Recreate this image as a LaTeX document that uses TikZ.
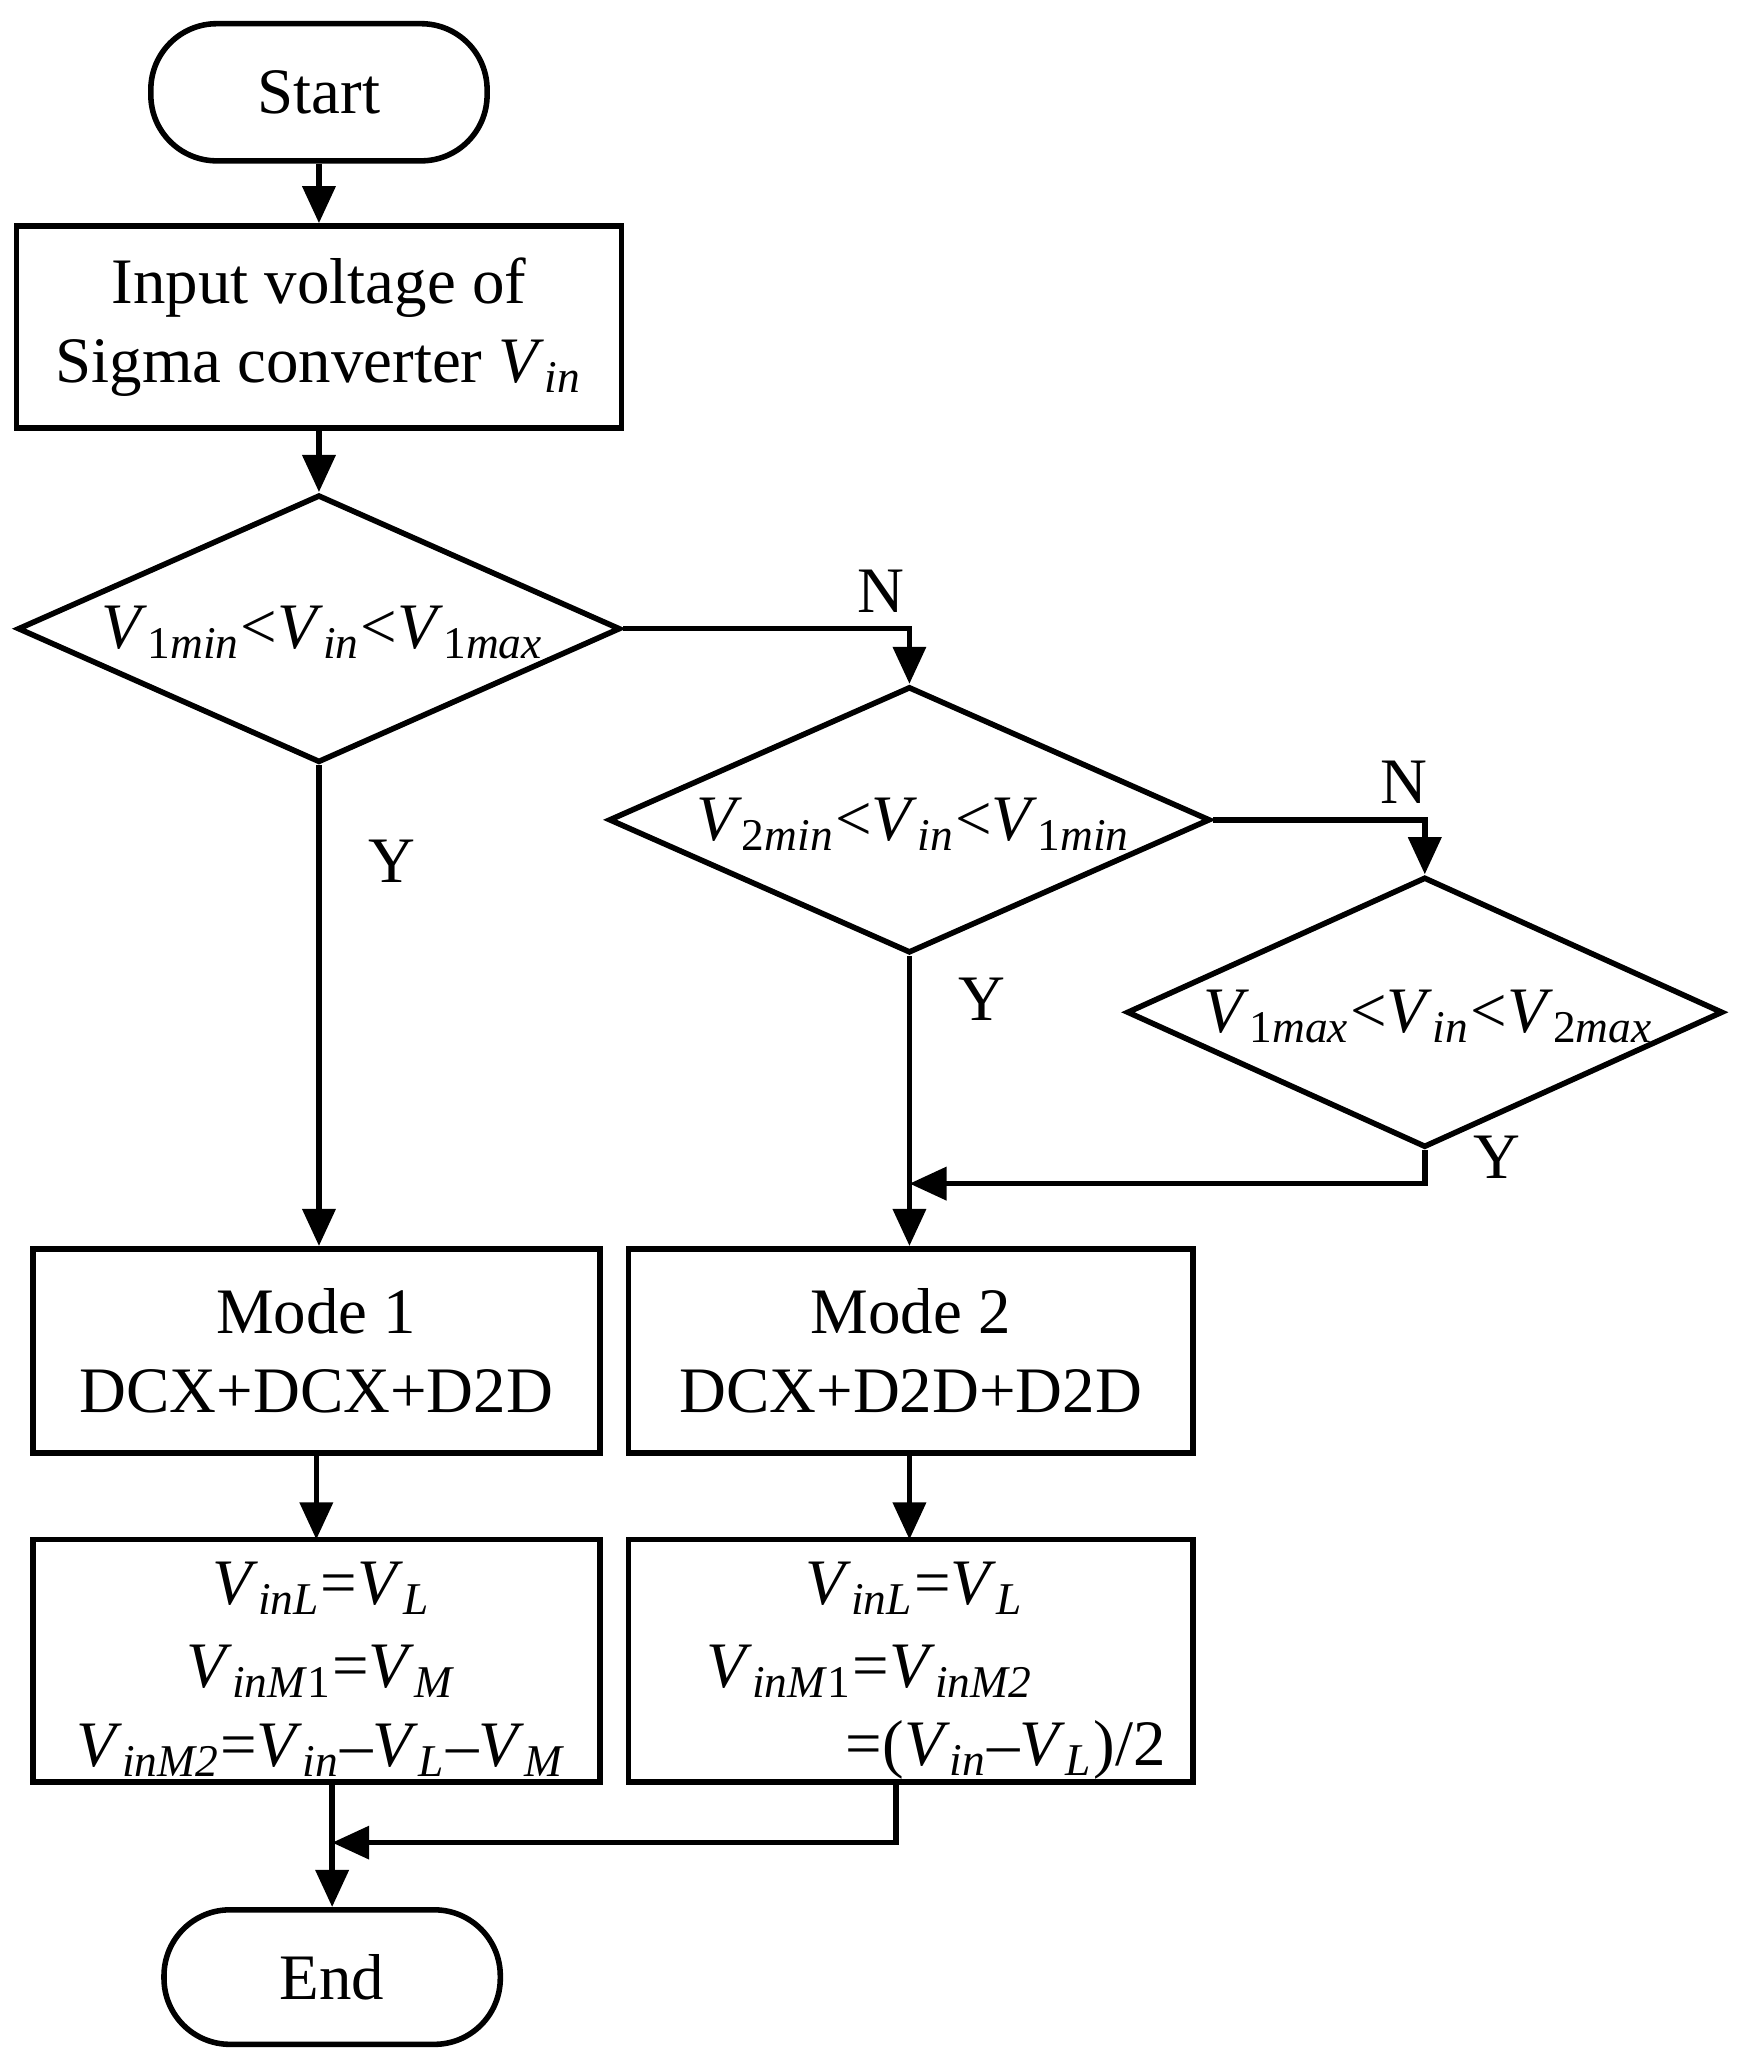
\documentclass[tikz,border=0pt]{standalone}
\usepackage{fontspec}
\setmainfont{Liberation Serif}
\usetikzlibrary{shapes.geometric,arrows.meta}
\newcommand{\VV}[1]{\textit{V}\textsubscript{#1}}
\newcommand{\ii}[1]{\textit{#1}}
\begin{document}
\begin{tikzpicture}[x=0.01cm,y=-0.01cm,
  every node/.style={font=\fontsize{14}{17}\selectfont},
  box/.style={draw,line width=1.2pt,inner sep=0pt},
  term/.style={box,rounded corners=0.5cm},
  lbl/.style={inner sep=0pt},
  line/.style={line width=1.2pt},
  arr/.style={line,-{Triangle[length=8pt,width=7pt]}}]
\useasboundingbox (0,0) rectangle (1320,1569);
\node[term,minimum width=2.55cm,minimum height=1.04cm] (start) at (242,70) {Start};
\node[box,minimum width=4.59cm,minimum height=1.53cm,align=center] (input) at (242,248) {Input voltage of\\Sigma converter \VV{\ii{in}}};
\node[box,diamond,minimum width=4.57cm,minimum height=2.03cm,aspect=2.25] (d1) at (242,477) {};
\node[lbl] at (245,480) {\VV{1\ii{min}}<\VV{\ii{in}}<\VV{1\ii{max}}};
\node[box,diamond,minimum width=4.56cm,minimum height=2.02cm,aspect=2.25] (d2) at (690,622) {};
\node[lbl] at (693,625) {\VV{2\ii{min}}<\VV{\ii{in}}<\VV{1\ii{min}}};
\node[box,diamond,minimum width=4.52cm,minimum height=2.05cm,aspect=2.2] (d3) at (1081,768) {};
\node[lbl] at (1084,771) {\VV{1\ii{max}}<\VV{\ii{in}}<\VV{2\ii{max}}};
\node[box,minimum width=4.30cm,minimum height=1.55cm,align=center] (m1) at (240,1025) {Mode 1\\DCX+DCX+D2D};
\node[box,minimum width=4.28cm,minimum height=1.55cm,align=center] (m2) at (691,1025) {Mode 2\\DCX+D2D+D2D};
\node[box,minimum width=4.30cm,minimum height=1.84cm] (e1) at (240,1260) {};
\node[box,minimum width=4.28cm,minimum height=1.84cm] (e2) at (691,1260) {};
\node[lbl] at (244,1205) {\VV{\ii{inL}}=\VV{\ii{L}}};
\node[lbl] at (244,1268) {\VV{\ii{inM}1}=\VV{\ii{M}}};
\node[lbl] at (244,1328) {\VV{\ii{inM2}}=\VV{\ii{in}}–\VV{\ii{L}}–\VV{\ii{M}}};
\node[lbl] at (694,1205) {\VV{\ii{inL}}=\VV{\ii{L}}};
\node[lbl] at (660,1268) {\VV{\ii{inM}1}=\VV{\ii{inM2}}};
\node[lbl,anchor=east] at (885,1328) {=(\VV{\ii{in}}–\VV{\ii{L}})/2};
\node[term,minimum width=2.55cm,minimum height=1.02cm] (end) at (252,1500) {End};
\coordinate (c1) at (690,898);
\coordinate (c2) at (252,1398);
\draw[arr] (start) -- (input);
\draw[arr] (input) -- (d1.north);
\draw[arr] (d1.east) -| (d2.north) node[pos=0.45,above,lbl,yshift=3pt] {N};
\draw[arr] (d2.east) -| (d3.north) node[pos=0.45,above,lbl,yshift=3pt] {N};
\draw[arr] (d1.south) -- (d1.south |- m1.north) node[pos=0.2,right,lbl,xshift=10pt] {Y};
\draw[arr] (d2.south) -- (d2.south |- m2.north) node[pos=0.15,right,lbl,xshift=10pt] {Y};
\draw[arr] (d3.south) |- (c1) node[pos=0.1,right,lbl,xshift=10pt] {Y};
\draw[arr] (240,1102) -- (240,1168);
\draw[arr] (690,1102) -- (690,1168);
\draw[arr] (252,1352) -- (end.north);
\draw[arr] (680,1352) |- (c2);
\end{tikzpicture}
\end{document}
